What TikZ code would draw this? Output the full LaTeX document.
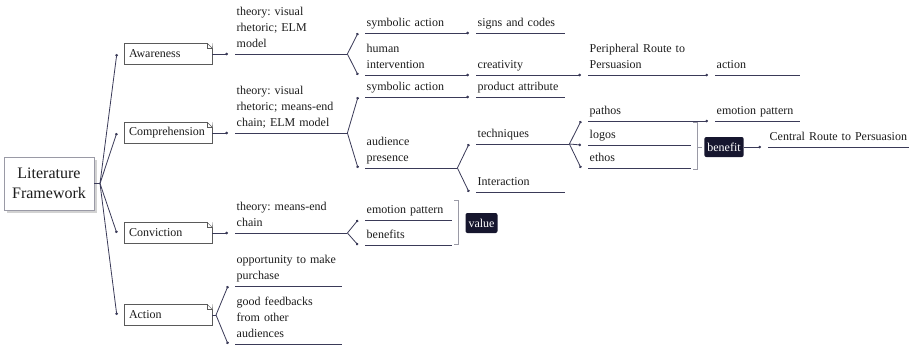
\documentclass[tikz,border=0pt]{standalone}
\usepackage{fontspec}
\setmainfont{Liberation Serif}
\usepackage{xcolor}
\usepackage{tikz}
\usetikzlibrary{arrows.meta, shadows}
\definecolor{trait}{HTML}{3A3A58}
\definecolor{encre}{HTML}{1C1C1C}
\definecolor{nuit}{HTML}{16162E}
\definecolor{cadre}{HTML}{5A5A5A}
\definecolor{grisclair}{HTML}{9A9AA6}
\frenchspacing
\tikzset{
  sujet/.style={anchor=south west, inner xsep=1.5pt, inner ysep=1.2pt,
    text width=#1-3pt, align=left, text=encre,
    font=\fontsize{12}{16}\selectfont,
    execute at begin node={\hyphenpenalty=10000},
    execute at end node={\strut}},
  etape/.style={rectangle, draw=cadre, fill=white, text=encre,
    font=\fontsize{12}{15}\selectfont, minimum height=21pt,
    text width=78pt, inner xsep=5pt, align=left},
  racine/.style={rectangle, draw=grisclair, fill=white, text=encre,
    font=\fontsize{16}{20}\selectfont, minimum width=90pt,
    minimum height=53pt, align=center,
    drop shadow={shadow xshift=2.5pt, shadow yshift=-2.5pt, fill=gray!35, opacity=1}},
  resume/.style={rectangle, rounded corners=2pt, fill=nuit, text=white,
    font=\fontsize{12}{15}\selectfont, inner xsep=3pt, minimum height=20pt},
  lien/.style={line width=0.8pt, color=trait},
  pointe/.style={lien, -{Circle[length=2.6pt]}},
  souligne/.style={line width=0.8pt, color=trait},
  accolade/.style={line width=0.6pt, color=grisclair}
}
\begin{document}
\begin{tikzpicture}[x=1pt, y=-1pt]
  \useasboundingbox (0,0) rectangle (912,349);

  % racine et etapes
  \node[racine] (lit) at (49,183.5) {Literature\\Framework};
  \node[etape] (aw) at (168,54) {Awareness};
  \node[etape] (co) at (168,133) {Comprehension};
  \node[etape] (cv) at (168,233) {Conviction};
  \node[etape] (ac) at (168,315) {Action};

  % niveau 1
  \node[sujet=112pt] (th1) at (235,54) {theory: visual\\rhetoric; ELM\\model};
  \node[sujet=112pt] (th2) at (235,133) {theory: visual\\rhetoric; means-end\\chain; ELM model};
  \node[sujet=112pt] (th3) at (235,233) {theory: means-end\\chain};
  \node[sujet=107pt] (op) at (235,286) {opportunity to make\\purchase};
  \node[sujet=107pt] (gf) at (235,344) {good feedbacks\\from other\\audiences};

  % niveau 2
  \node[sujet=92pt] (sa1) at (365,33) {symbolic action};
  \node[sujet=92pt] (hi) at (365,75) {human\\intervention};
  \node[sujet=92pt] (sa2) at (365,97) {symbolic action};
  \node[sujet=92pt] (ap) at (365,168) {audience\\presence};
  \node[sujet=87pt] (ep1) at (365,220) {emotion pattern};
  \node[sujet=87pt] (bf) at (365,245) {benefits};

  % niveau 3
  \node[sujet=89pt] (sc) at (476,33) {signs and codes};
  \node[sujet=89pt] (cr) at (476,75) {creativity};
  \node[sujet=89pt] (pa) at (476,97) {product attribute};
  \node[sujet=93pt] (tq) at (476,144) {techniques};
  \node[sujet=89pt] (ia) at (476,192) {Interaction};

  % niveaux 4 et 5
  \node[sujet=103pt] (pe) at (588,75) {Peripheral Route to\\Persuasion};
  \node[sujet=103pt] (pt) at (588,121) {pathos};
  \node[sujet=103pt] (lg) at (588,145) {logos};
  \node[sujet=103pt] (et) at (588,168) {ethos};
  \node[sujet=85pt] (at) at (715,75) {action};
  \node[sujet=85pt] (ep2) at (715,121) {emotion pattern};
  \node[sujet=141pt] (cp) at (768,147) {Central Route to Persuasion};

  \node[resume] (bn) at (724,147) {benefit};
  \node[resume] (va) at (481.5,223) {value};

  \foreach \n in {th1,th2,th3,op,gf,sa1,hi,sa2,ap,ep1,bf,sc,cr,pa,tq,ia,pe,pt,lg,et,at,ep2,cp}
    \draw[souligne] (\n.south west) -- (\n.south east);

  % coin replie des etapes
  \foreach \n in {aw,co,cv,ac} {
    \fill[white] ([xshift=-5pt]\n.north east) -- ([xshift=0.6pt,yshift=0.6pt]\n.north east) -- ([yshift=-5pt]\n.north east) -- cycle;
    \draw[cadre, line width=0.5pt] ([xshift=-5pt]\n.north east) -- ([yshift=-5pt]\n.north east);
    \draw[cadre, line width=0.4pt] ([xshift=-5pt]\n.north east) -- ([xshift=-5pt,yshift=-5pt]\n.north east) -- ([yshift=-5pt]\n.north east);
  }

  \coordinate (j0) at (100,183.5);
  \draw[lien] (lit.east) -- (j0);
  \foreach \n in {aw,co,cv,ac}
    \draw[pointe] (j0) -- ([xshift=-7pt]\n.west);

  \draw[pointe] (aw.east) -- ([xshift=-7pt]th1.south west);
  \draw[pointe] (co.east) -- ([xshift=-7pt]th2.south west);
  \draw[pointe] (cv.east) -- ([xshift=-7pt]th3.south west);
  \coordinate (j4) at (216,315);
  \draw[lien] (ac.east) -- (j4);
  \draw[pointe] (j4) -- ([xshift=-7pt]op.south west);
  \draw[pointe] (j4) -- ([xshift=-7pt]gf.south west);

  \draw[pointe] (th1.south east) -- ([xshift=-7pt]sa1.south west);
  \draw[pointe] (th1.south east) -- ([xshift=-7pt]hi.south west);
  \draw[pointe] (th2.south east) -- ([xshift=-7pt]sa2.south west);
  \draw[pointe] (th2.south east) -- ([xshift=-7pt]ap.south west);
  \draw[pointe] (th3.south east) -- ([xshift=-7pt]ep1.south west);
  \draw[pointe] (th3.south east) -- ([xshift=-7pt]bf.south west);

  \draw[pointe] (sa1.south east) -- ([xshift=-7pt]sc.south west);
  \draw[pointe] (hi.south east) -- ([xshift=-7pt]cr.south west);
  \draw[pointe] (sa2.south east) -- ([xshift=-7pt]pa.south west);
  \draw[pointe] (ap.south east) -- ([xshift=-7pt]tq.south west);
  \draw[pointe] (ap.south east) -- ([xshift=-7pt]ia.south west);

  \draw[pointe] (cr.south east) -- ([xshift=-7pt]pe.south west);
  \foreach \n in {pt,lg,et}
    \draw[pointe] (tq.south east) -- ([xshift=-7pt]\n.south west);
  \draw[pointe] (pe.south east) -- ([xshift=-7pt]at.south west);
  \draw[pointe] (pt.south east) -- ([xshift=-7pt]ep2.south west);
  \draw[pointe] (bn.east) -- ([xshift=-7pt]cp.south west);

  % accolades de resume
  \draw[accolade] ([xshift=2pt,yshift=4pt]lg.north east) -- ++(4,0) |- ([xshift=2pt,yshift=-1pt]et.south east);
  \draw[accolade] ([xshift=-2pt]bn.west) -- ++(-4,0);
  \draw[accolade] ([xshift=2pt,yshift=1pt]ep1.north east) -- ++(4,0) |- ([xshift=2pt,yshift=1pt]bf.south east);
\end{tikzpicture}
\end{document}
